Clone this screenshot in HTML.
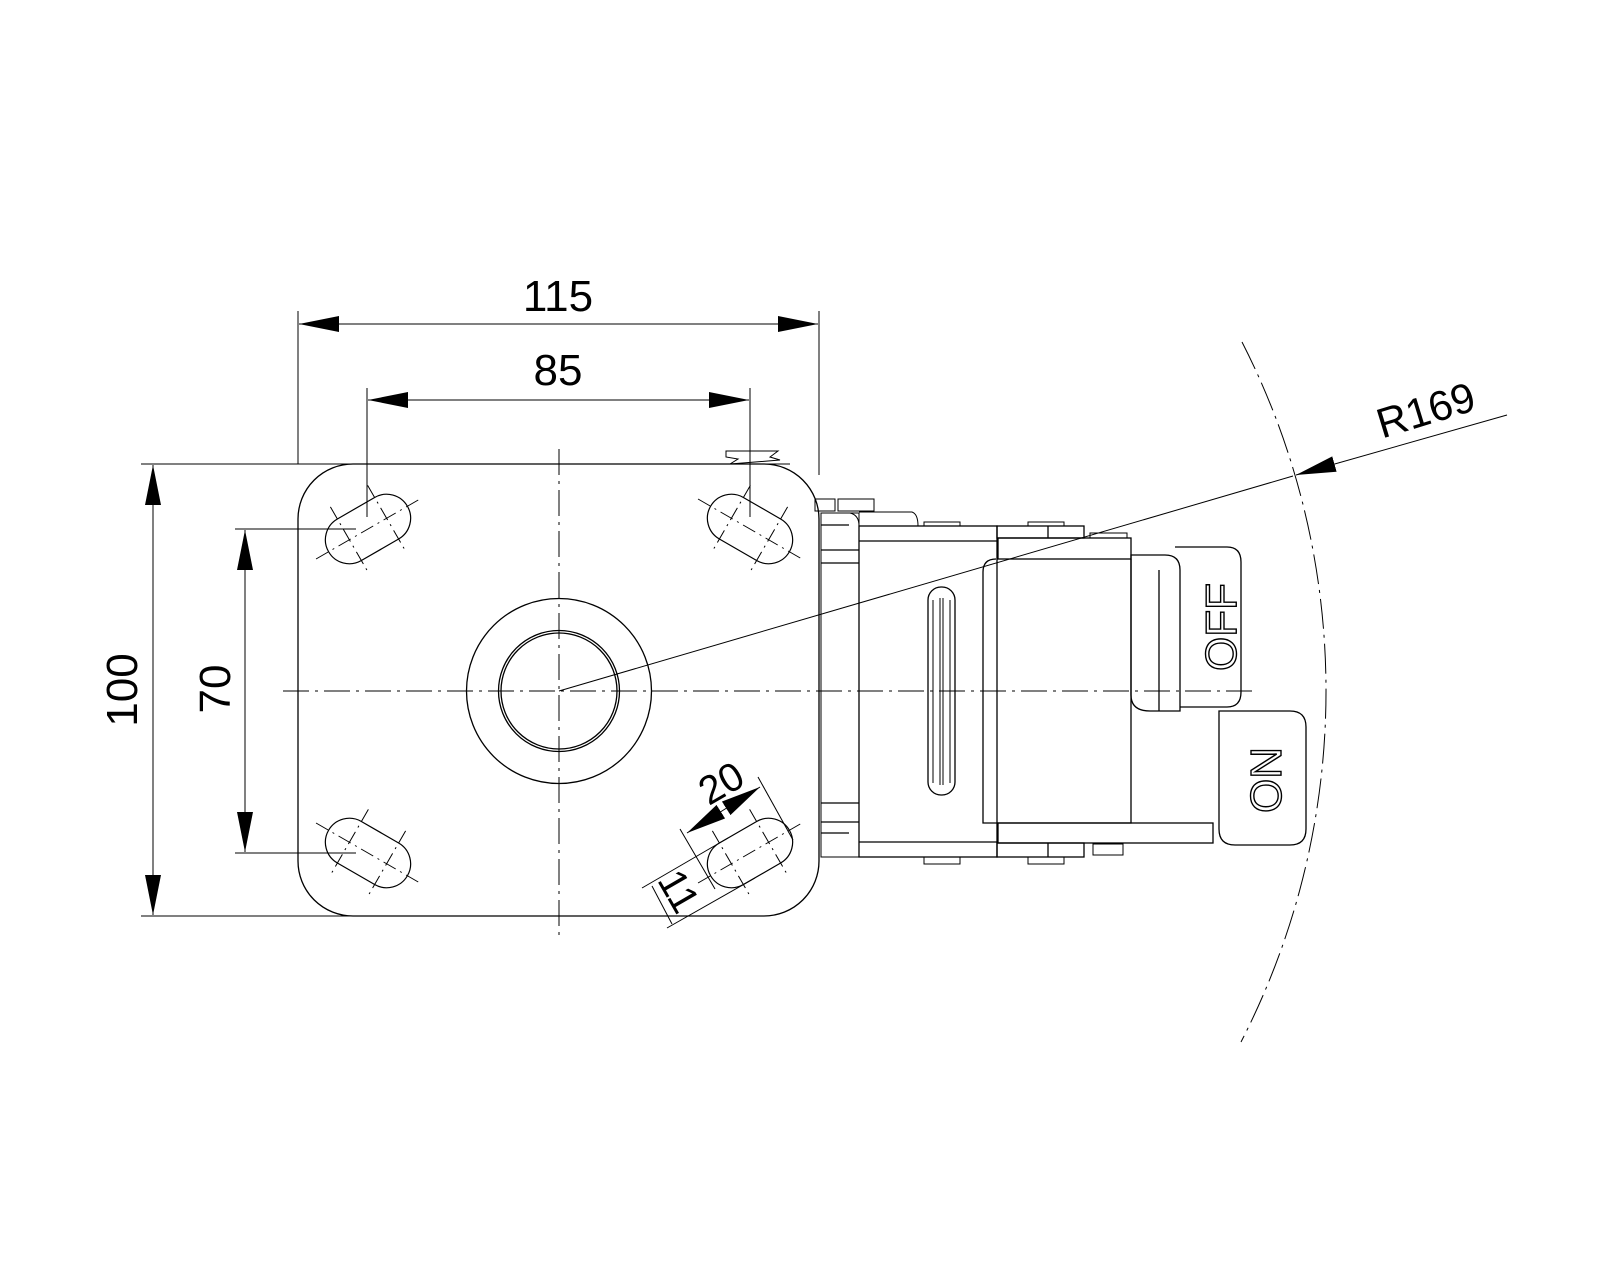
<!DOCTYPE html>
<html><head><meta charset="utf-8"><style>html,body{margin:0;padding:0;background:#fff}svg{display:block}</style></head>
<body>
<svg width="1600" height="1280" viewBox="0 0 1600 1280" xmlns="http://www.w3.org/2000/svg" font-family="Liberation Sans, sans-serif">
<defs>
<marker id="ar" viewBox="0 0 20 8" refX="20" refY="4" markerWidth="40" markerHeight="16" markerUnits="userSpaceOnUse" orient="auto-start-reverse"><path d="M0 0 L20 4 L0 8 Z" fill="#000"/></marker>
<g id="slot">
<rect x="-45.5" y="-24" width="91" height="48" rx="24" fill="none" stroke="#000" stroke-width="1.2"/>
<line x1="-60" y1="0" x2="60" y2="0" stroke="#000" stroke-width="1" stroke-dasharray="14 5 2 5"/>
<line x1="-21.5" y1="-38" x2="-21.5" y2="38" stroke="#000" stroke-width="1" stroke-dasharray="14 5 2 5"/>
<line x1="21.5" y1="-38" x2="21.5" y2="38" stroke="#000" stroke-width="1" stroke-dasharray="14 5 2 5"/>
</g>
</defs>
<g fill="none" stroke="#000" stroke-width="1.3">
<rect x="298" y="464" width="521" height="452" rx="55"/>
<circle cx="559" cy="691" r="92.5"/>
<circle cx="559" cy="691" r="60.5"/>
<circle cx="559" cy="691" r="58"/>
<line x1="559" y1="449" x2="559" y2="935" stroke-width="1" stroke-dasharray="26 6 3 6"/>
<line x1="283" y1="691" x2="1255" y2="691" stroke-width="1" stroke-dasharray="26 6 3 6"/>
<use href="#slot" transform="translate(368,529) rotate(-30)"/>
<use href="#slot" transform="translate(750,529) rotate(30)"/>
<use href="#slot" transform="translate(368,853) rotate(30)"/>
<use href="#slot" transform="translate(750,853) rotate(-30)"/>
<line x1="298" y1="311" x2="298" y2="464" stroke-width="1"/>
<line x1="819" y1="311" x2="819" y2="475" stroke-width="1"/>
<line x1="299" y1="324" x2="818" y2="324" stroke-width="1" marker-start="url(#ar)" marker-end="url(#ar)"/>
<line x1="367" y1="388" x2="367" y2="517" stroke-width="1"/>
<line x1="750" y1="388" x2="750" y2="517" stroke-width="1"/>
<line x1="368" y1="400" x2="749" y2="400" stroke-width="1" marker-start="url(#ar)" marker-end="url(#ar)"/>
<line x1="141" y1="464" x2="790" y2="464" stroke-width="1"/>
<line x1="141" y1="916" x2="360" y2="916" stroke-width="1"/>
<line x1="153" y1="465" x2="153" y2="915" stroke-width="1" marker-start="url(#ar)" marker-end="url(#ar)"/>
<line x1="235" y1="529" x2="356" y2="529" stroke-width="1"/>
<line x1="235" y1="853" x2="356" y2="853" stroke-width="1"/>
<line x1="245" y1="530" x2="245" y2="852" stroke-width="1" marker-start="url(#ar)" marker-end="url(#ar)"/>
<line x1="680" y1="829" x2="715" y2="889" stroke-width="1"/>
<line x1="758" y1="777" x2="793" y2="840" stroke-width="1"/>
<line x1="687" y1="833" x2="760" y2="787" stroke-width="1" marker-start="url(#ar)" marker-end="url(#ar)"/>
<line x1="642" y1="888" x2="728" y2="838" stroke-width="1"/>
<line x1="667" y1="928" x2="755" y2="878" stroke-width="1"/>
<line x1="652" y1="886" x2="672" y2="924" stroke-width="1"/>
<path d="M726 451 L778 451 L770 457 L780 460 L730 464 L738 459 L726 457 Z" stroke-width="1"/>
<path d="M1242 342 A767 767 0 0 1 1241 1042" stroke-width="1" stroke-dasharray="30 6 3 6"/>
<line x1="559" y1="691" x2="1293" y2="476" stroke-width="1"/>
<line x1="1507" y1="415" x2="1296" y2="475" stroke-width="1" marker-end="url(#ar)"/>
<rect x="815" y="499" width="20" height="12" stroke-width="1"/>
<rect x="838" y="499" width="36" height="12" stroke-width="1"/>
<path d="M821 513 H850 Q859 515 859 526" stroke-width="1"/>
<path d="M859 512 H912 Q918 514 918 526" stroke-width="1"/>
<rect x="821" y="513" width="38" height="344" stroke-width="1"/>
<line x1="821" y1="525" x2="849" y2="525"/><line x1="821" y1="550" x2="859" y2="550"/><line x1="821" y1="563" x2="859" y2="563"/>
<line x1="821" y1="803" x2="859" y2="803"/><line x1="821" y1="822" x2="859" y2="822"/><line x1="821" y1="833" x2="849" y2="833"/>
<rect x="859" y="526" width="138" height="331"/>
<line x1="859" y1="541" x2="997" y2="541"/>
<line x1="859" y1="842" x2="997" y2="842"/>
<rect x="924" y="522" width="36" height="4" stroke-width="1"/>
<rect x="1028" y="522" width="36" height="4" stroke-width="1"/>
<rect x="997" y="526" width="87" height="12"/>
<line x1="1048" y1="526" x2="1048" y2="538"/>
<rect x="1090" y="533" width="37" height="5" stroke-width="1"/>
<rect x="998" y="538" width="133" height="21"/>
<path d="M1131 559 V823 H983 V572 Q983 559 996 559"/>
<rect x="928" y="587" width="27" height="208" rx="13"/>
<line x1="933" y1="600" x2="933" y2="783" stroke-width="1"/><line x1="950" y1="600" x2="950" y2="783" stroke-width="1"/>
<line x1="940" y1="598" x2="940" y2="785" stroke-width="1"/><line x1="943" y1="598" x2="943" y2="785" stroke-width="1"/>
<path d="M1131 555 H1165 Q1180 555 1180 570 V711 H1150 Q1131 711 1131 695 Z"/>
<line x1="1159" y1="570" x2="1159" y2="711"/>
<path d="M1175 547 H1227 Q1241 547 1241 562 V692 Q1241 707 1227 707 H1180"/>
<path d="M1219 711 H1290 Q1306 711 1306 727 V829 Q1306 845 1290 845 H1235 Q1219 845 1219 829 Z"/>
<rect x="998" y="823" width="215" height="20"/>
<rect x="997" y="843" width="87" height="14"/>
<line x1="1048" y1="843" x2="1048" y2="857"/>
<rect x="924" y="857" width="36" height="7" stroke-width="1"/>
<rect x="1028" y="857" width="36" height="7" stroke-width="1"/>
<rect x="1093" y="844" width="30" height="11" stroke-width="1"/>
</g>
<g fill="#000" font-size="44" text-anchor="middle">
<text x="558" y="311">115</text>
<text x="558" y="385">85</text>
<text transform="translate(137,690) rotate(-90)">100</text>
<text transform="translate(230,689) rotate(-90)">70</text>
<text transform="translate(728,795) rotate(-30)" font-size="40">20</text>
<text transform="translate(667,898) rotate(60)" font-size="40">11</text>
<text transform="translate(1430,424) rotate(-17)" font-size="42">R169</text>
</g>
<g fill="none" stroke="#000" stroke-width="1.4" font-size="44" text-anchor="middle">
<text transform="translate(1236,627) rotate(-90)">OFF</text>
<text transform="translate(1281,780) rotate(-90)">ON</text>
</g>
</svg>
</body></html>
